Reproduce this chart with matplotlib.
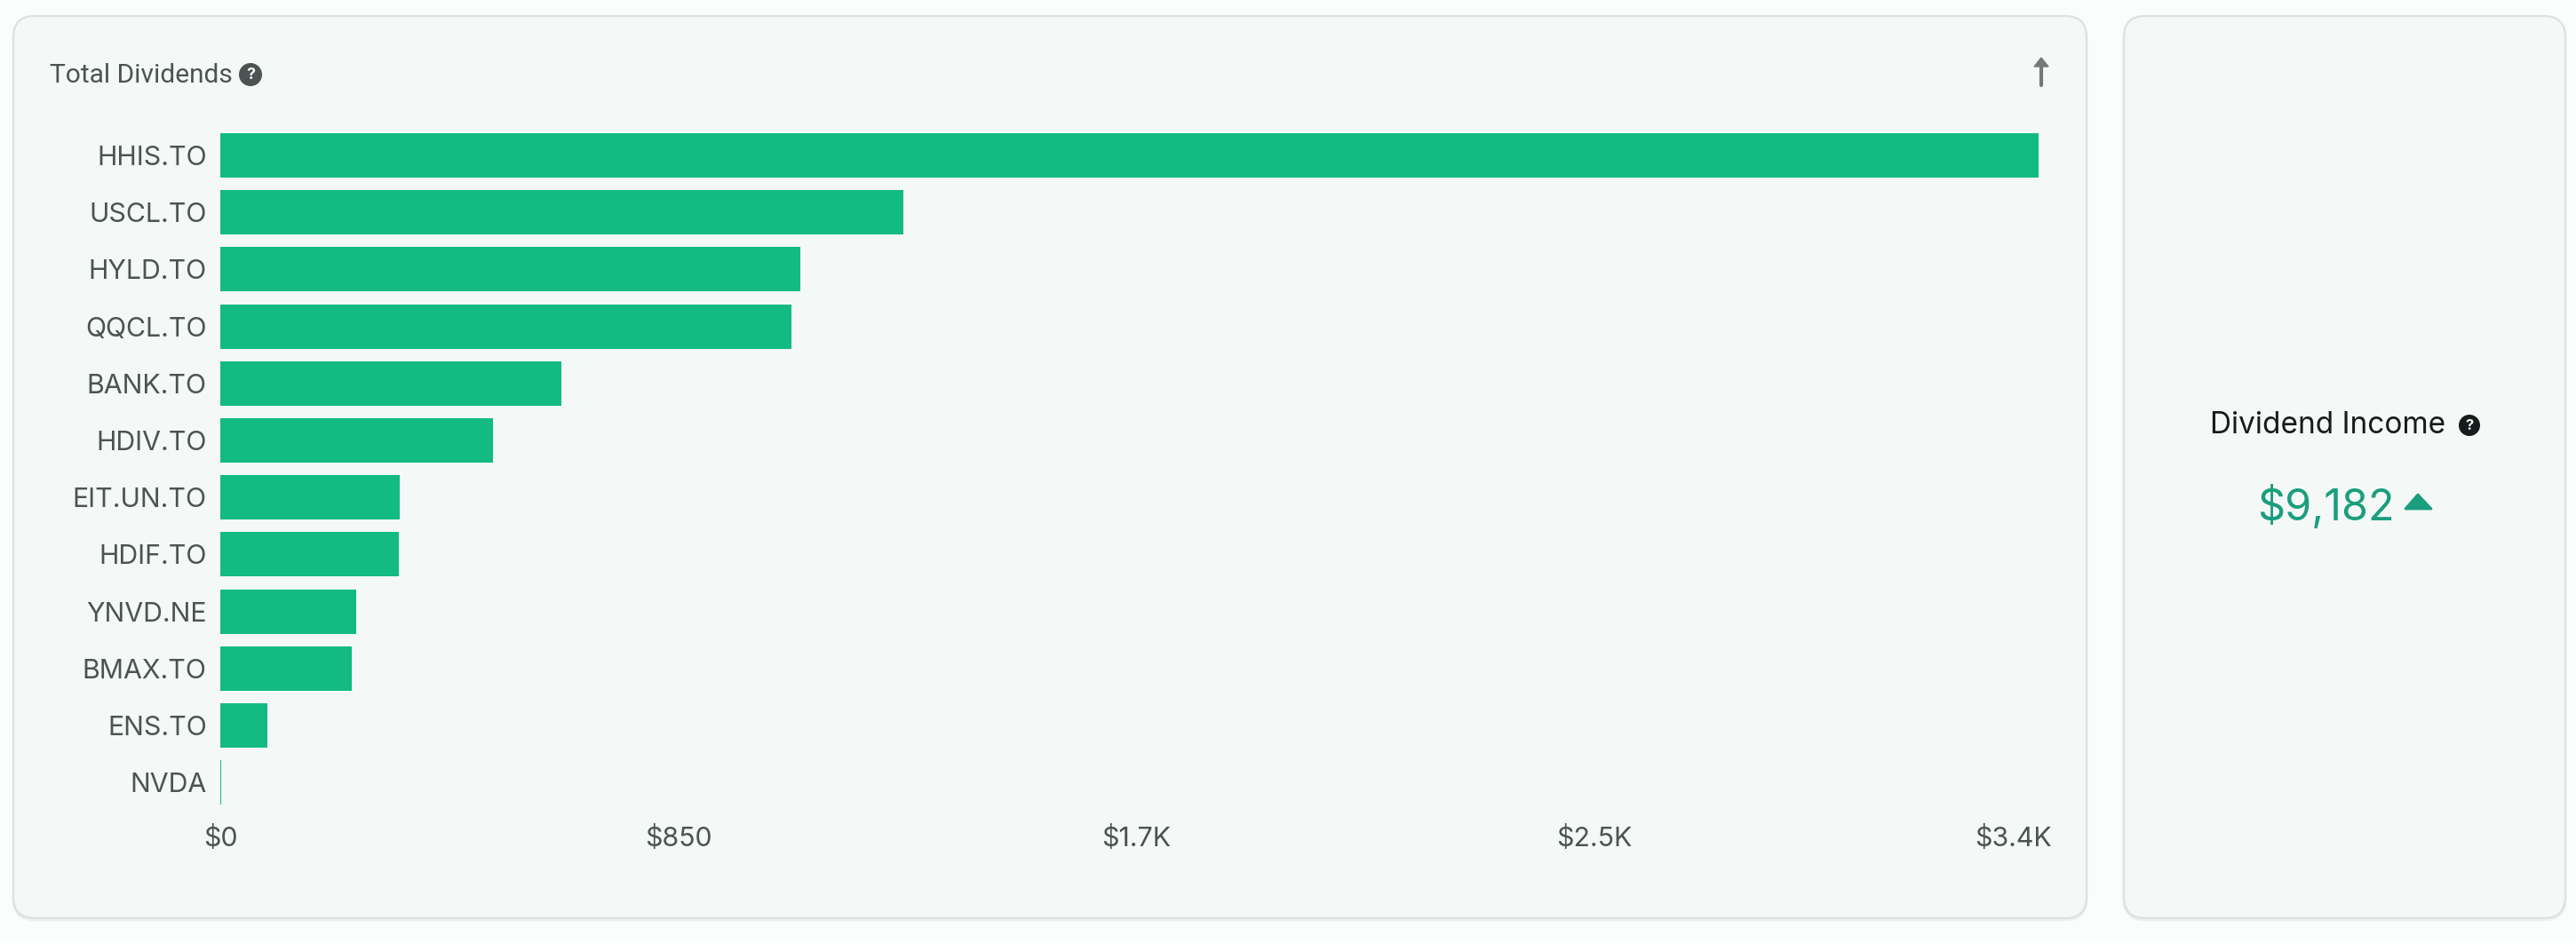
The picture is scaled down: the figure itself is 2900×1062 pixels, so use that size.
import matplotlib
matplotlib.use("Agg")
from matplotlib import pyplot as plt
from matplotlib.patches import FancyBboxPatch, Circle, Polygon

tickers = ["HHIS.TO", "USCL.TO", "HYLD.TO", "QQCL.TO", "BANK.TO", "HDIV.TO",
           "EIT.UN.TO", "HDIF.TO", "YNVD.NE", "BMAX.TO", "ENS.TO", "NVDA"]
dividends = [3375, 1268, 1077, 1060, 633, 507, 333, 331, 252, 244, 87, 2]
x_ticks = [0, 850, 1700, 2550, 3400]
x_labels = ["$0", "$850", "$1.7K", "$2.5K", "$3.4K"]

W, H = 2900, 1062
GREEN = "#13BB82"
GREY = "#4B5453"
DARK = "#161C1B"
TEAL = "#1A9E7E"

plt.rcParams["font.family"] = ["Inter", "DejaVu Sans"]

fig = plt.figure(figsize=(W / 100, H / 100), dpi=100, facecolor="#FAFDFC")

# background layer in pixel coordinates
bg = fig.add_axes([0, 0, 1, 1])
bg.set_xlim(0, W)
bg.set_ylim(H, 0)
bg.axis("off")


def card(x0, y0, x1, y1):
    # faint shadow under the card, then the card
    bg.add_patch(FancyBboxPatch((x0 + 24, y0 + 26), x1 - x0 - 48, y1 - y0 - 48,
                                boxstyle="round,pad=24,rounding_size=24",
                                fc="#ECF0EF", ec="#ECF0EF", lw=2))
    bg.add_patch(FancyBboxPatch((x0 + 24, y0 + 24), x1 - x0 - 48, y1 - y0 - 48,
                                boxstyle="round,pad=24,rounding_size=24",
                                fc="#F4F8F6", ec="#DDE1E0", lw=1.6))


def help_icon(x, y, r, color, size):
    bg.add_patch(Circle((x, y), r, fc=color, ec="none"))
    bg.text(x, y + 0.5, "?", color="#F4F8F6", fontsize=size, fontweight="bold",
            ha="center", va="center")


card(15, 18, 2349, 1034)
card(2391, 18, 2888, 1034)

bg.text(56, 93, "Total Dividends", fontsize=21.5, color=GREY, ha="left", va="baseline",
        family=["Roboto", "DejaVu Sans"])
help_icon(282, 84, 13, GREY, 13)

# sort arrow, top right
bg.plot([2298, 2298], [72, 96], color="#737A79", lw=3, solid_capstyle="round")
bg.add_patch(Polygon([[2298, 65], [2306, 75], [2290, 75]], fc="#737A79", ec="#737A79", lw=1))

# income card
bg.text(2488, 488, "Dividend Income", fontsize=24, color=DARK, ha="left", va="baseline")
help_icon(2780, 479, 12, DARK, 12)
bg.text(2541, 586, "$9,182", fontsize=35, color=TEAL, ha="left", va="baseline")
bg.add_patch(Polygon([[2722, 557], [2737, 573], [2708, 573]], fc=TEAL, ec=TEAL, lw=2, joinstyle="round"))

# bar chart
row = 64.2
top = 175 - row / 2
left = 248
right = 2310
height = row * len(tickers)
ax = fig.add_axes([left / W, 1 - (top + height) / H, (right - left) / W, height / H])
ax.patch.set_alpha(0)
ax.barh(range(len(tickers)), dividends, height=50 / row, color=GREEN)
ax.set_xlim(0, 3400)
ax.set_ylim(len(tickers) - 0.5, -0.5)
ax.set_yticks(range(len(tickers)))
ax.set_yticklabels(tickers, va="center_baseline")
ax.set_xticks(x_ticks)
ax.set_xticklabels(x_labels)
ax.get_xticklabels()[-1].set_ha("right")
ax.tick_params(axis="both", length=0, labelsize=21.8, labelcolor=GREY)
ax.tick_params(axis="y", pad=11)
ax.tick_params(axis="x", pad=12)
for s in ax.spines.values():
    s.set_visible(False)

fig.savefig("out.png", dpi=100, facecolor=fig.get_facecolor())
